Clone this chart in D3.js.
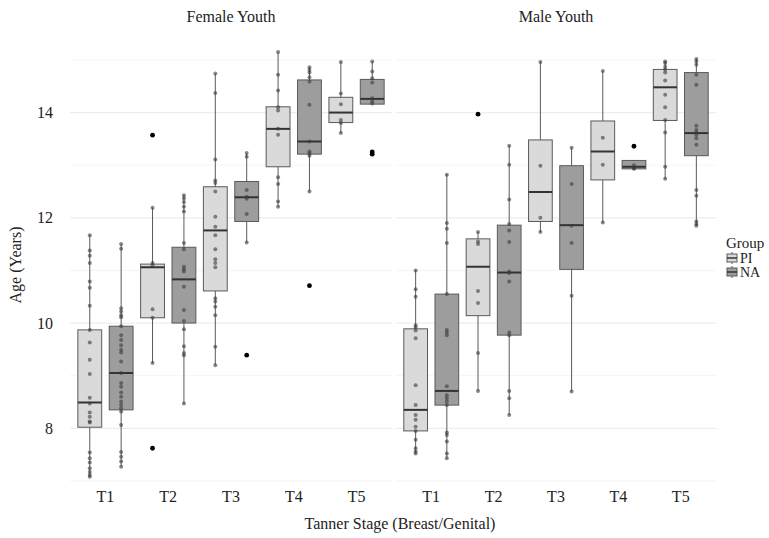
<!DOCTYPE html>
<html>
<head>
<meta charset="utf-8">
<script src="https://cdn.jsdelivr.net/npm/d3@7"></script>
<style>
  body { margin: 0; background: #fff; }
  text { font-family: "Liberation Serif", "DejaVu Serif", serif; fill: #222; }
</style>
</head>
<body>
<script>
const panels = ["Female Youth", "Male Youth"];
const stages = ["T1", "T2", "T3", "T4", "T5"];
const groups = ["PI", "NA"];
const yTicks = [8, 10, 12, 14];

// box stats per stage: [lower whisker, q1, median, q3, upper whisker]
const femalePIBox = [[7.08, 8.02, 8.49, 9.87, 11.67], [9.24, 10.10, 11.06, 11.12, 12.19], [9.20, 10.61, 11.76, 12.59, 14.74], [12.21, 12.97, 13.69, 14.11, 15.15], [13.61, 13.81, 14.00, 14.29, 14.96]];
const femaleNABox = [[7.27, 8.35, 9.05, 9.94, 11.50], [8.47, 10.00, 10.83, 11.44, 12.43], [11.53, 11.93, 12.39, 12.69, 13.23], [12.50, 13.21, 13.45, 14.62, 14.86], [14.16, 14.16, 14.26, 14.63, 14.97]];
const malePIBox = [[7.52, 7.95, 8.35, 9.89, 11.00], [8.71, 10.14, 11.07, 11.60, 11.73], [11.73, 11.93, 12.49, 13.48, 14.96], [11.91, 12.72, 13.26, 13.84, 14.79], [12.74, 13.85, 14.48, 14.82, 14.97]];
const maleNABox = [[7.43, 8.44, 8.71, 10.55, 12.82], [8.25, 9.77, 10.96, 11.86, 13.37], [8.70, 11.02, 11.86, 12.99, 13.33], [12.93, 12.93, 12.97, 13.09, 13.09], [11.85, 13.18, 13.61, 14.76, 15.02]];

// individual ages per stage
const femalePIPts = [
  [11.67, 11.38, 11.28, 11.14, 10.79, 10.67, 10.33, 9.87, 9.63, 9.30, 9.03, 8.58, 8.47, 8.30, 8.22, 8.13, 8.11, 7.54, 7.43, 7.35, 7.24, 7.17, 7.11, 7.08],
  [12.19, 11.14, 11.10, 10.26, 10.10, 9.24],
  [14.74, 14.37, 13.11, 12.71, 12.66, 12.50, 12.02, 11.83, 11.67, 11.40, 11.21, 11.14, 11.06, 10.47, 10.41, 10.31, 10.15, 9.55, 9.20],
  [15.15, 14.72, 14.42, 14.10, 14.04, 13.69, 13.58, 12.77, 12.64, 12.31, 12.21],
  [14.96, 14.36, 14.16, 13.86, 13.80, 13.61]];
const femaleNAPts = [
  [11.50, 11.41, 10.28, 10.22, 10.15, 10.11, 9.94, 9.77, 9.68, 9.58, 9.49, 9.44, 9.27, 9.05, 8.86, 8.79, 8.68, 8.60, 8.51, 8.44, 8.38, 8.32, 8.06, 7.55, 7.46, 7.37, 7.27],
  [12.43, 12.37, 12.30, 12.21, 12.12, 11.52, 11.40, 11.07, 11.02, 10.98, 10.69, 10.25, 10.04, 9.88, 9.56, 9.43, 9.39, 8.47],
  [13.23, 13.16, 12.53, 12.40, 12.36, 12.07, 11.53],
  [14.86, 14.81, 14.76, 14.67, 14.59, 14.15, 13.45, 13.26, 13.22, 13.18, 12.50],
  [14.97, 14.78, 14.65, 14.57, 14.27, 14.21, 14.17]];
const malePIPts = [
  [11.00, 10.64, 10.50, 9.96, 9.92, 9.86, 9.71, 8.82, 8.44, 8.25, 8.16, 8.03, 7.95, 7.78, 7.62, 7.56, 7.52],
  [11.73, 11.55, 11.50, 10.61, 10.38, 9.43, 8.71],
  [14.96, 12.99, 12.00, 11.73],
  [14.79, 13.52, 13.01, 11.91],
  [14.97, 14.94, 14.87, 14.82, 14.76, 14.61, 14.34, 14.10, 13.86, 13.62, 12.97, 12.74]];
const maleNAPts = [
  [12.82, 11.90, 11.79, 11.52, 10.55, 9.87, 9.82, 9.77, 8.80, 8.63, 8.57, 8.51, 8.44, 7.92, 7.87, 7.75, 7.52, 7.43],
  [13.37, 13.01, 12.35, 11.88, 11.76, 11.54, 10.98, 10.95, 10.79, 9.82, 9.77, 8.71, 8.57, 8.25],
  [13.33, 12.64, 11.85, 11.52, 10.52, 8.70],
  [13.00, 12.94, 12.93],
  [15.02, 14.97, 14.91, 14.72, 14.53, 13.75, 13.67, 13.62, 13.58, 13.51, 13.39, 12.53, 12.42, 11.93, 11.88, 11.85]];

// outliers per stage
const femalePIOut = [[], [13.57, 7.62], [], [], []];
const femaleNAOut = [[], [], [9.39], [10.71], [13.25, 13.21]];
const malePIOut = [[], [13.97], [], [], []];
const maleNAOut = [[], [], [], [13.36], []];

const series = [
  {panel: 0, group: "PI", box: femalePIBox, pts: femalePIPts, out: femalePIOut},
  {panel: 0, group: "NA", box: femaleNABox, pts: femaleNAPts, out: femaleNAOut},
  {panel: 1, group: "PI", box: malePIBox, pts: malePIPts, out: malePIOut},
  {panel: 1, group: "NA", box: maleNABox, pts: maleNAPts, out: maleNAOut}
];

const width = 769, height = 538;
const fillColor = d3.scaleOrdinal().domain(groups).range(["#dadada", "#9d9d9d"]);
const panelX = [[70, 392], [396, 716]];
const plotTop = 31, plotBottom = 483;

const y = d3.scaleLinear().domain([6.96, 15.55]).range([plotBottom, plotTop]);

const svg = d3.select("body").append("svg")
  .attr("width", width)
  .attr("height", height);

panels.forEach(function(name, p) {
  const x = d3.scalePoint().domain(stages).range(panelX[p]).padding(0.565);
  const step = x.step();
  const dodge = d3.scalePoint().domain(groups).range([-step * 0.25, step * 0.25]);
  const boxW = step * 0.38;
  const g = svg.append("g");

  // grid
  const minor = d3.range(7, 16, 2);
  g.selectAll("line.minor").data(minor).join("line")
    .attr("x1", panelX[p][0]).attr("x2", panelX[p][1])
    .attr("y1", d => y(d)).attr("y2", d => y(d))
    .attr("stroke", "#f5f5f5").attr("stroke-width", 1);
  g.selectAll("line.major").data(yTicks).join("line")
    .attr("x1", panelX[p][0]).attr("x2", panelX[p][1])
    .attr("y1", d => y(d)).attr("y2", d => y(d))
    .attr("stroke", "#ededed").attr("stroke-width", 1.2);

  // strip title
  svg.append("text")
    .attr("x", (panelX[p][0] + panelX[p][1]) / 2)
    .attr("y", 22)
    .attr("text-anchor", "middle")
    .attr("font-size", 16)
    .text(name);

  // x tick labels
  g.selectAll("text.xt").data(stages).join("text")
    .attr("x", d => x(d))
    .attr("y", 502)
    .attr("text-anchor", "middle")
    .attr("font-size", 16)
    .text(d => d);

  series.filter(s => s.panel === p).forEach(function(s) {
    stages.forEach(function(st, i) {
      const b = s.box[i];
      const cx = x(st) + dodge(s.group);
      const sg = g.append("g");
      sg.append("line")
        .attr("x1", cx).attr("x2", cx)
        .attr("y1", y(b[0])).attr("y2", y(b[4]))
        .attr("stroke", "#5a5a5a").attr("stroke-width", 1);
      sg.append("rect")
        .attr("x", cx - boxW / 2).attr("width", boxW)
        .attr("y", y(b[3])).attr("height", Math.max(1, y(b[1]) - y(b[3])))
        .attr("fill", fillColor(s.group))
        .attr("stroke", "#5a5a5a").attr("stroke-width", 1);
      sg.append("line")
        .attr("x1", cx - boxW / 2).attr("x2", cx + boxW / 2)
        .attr("y1", y(b[2])).attr("y2", y(b[2]))
        .attr("stroke", "#333").attr("stroke-width", 2);
      sg.selectAll("circle.pt").data(s.pts[i]).join("circle")
        .attr("cx", cx).attr("cy", d => y(d))
        .attr("r", 2)
        .attr("fill", "#3a3a3a").attr("fill-opacity", 0.6);
      sg.selectAll("circle.out").data(s.out[i]).join("circle")
        .attr("cx", cx).attr("cy", d => y(d))
        .attr("r", 2.4)
        .attr("fill", "#000");
    });
  });
});

// y tick labels
svg.selectAll("text.yt").data(yTicks).join("text")
  .attr("x", 53)
  .attr("y", d => y(d) + 5.5)
  .attr("text-anchor", "end")
  .attr("font-size", 16)
  .text(d => d);

// axis titles
svg.append("text")
  .attr("transform", "translate(21,265) rotate(-90)")
  .attr("text-anchor", "middle")
  .attr("font-size", 16)
  .text("Age (Years)");
svg.append("text")
  .attr("x", 400)
  .attr("y", 529)
  .attr("text-anchor", "middle")
  .attr("font-size", 16)
  .text("Tanner Stage (Breast/Genital)");

// legend
const leg = svg.append("g").attr("transform", "translate(726,0)");
leg.append("text").attr("x", 0).attr("y", 248).attr("font-size", 15).text("Group");
groups.forEach(function(gname, i) {
  const ky = 258 + i * 14;
  leg.append("line").attr("x1", 6).attr("x2", 6).attr("y1", ky - 6).attr("y2", ky + 6)
    .attr("stroke", "#5a5a5a");
  leg.append("rect").attr("x", 1).attr("y", ky - 4).attr("width", 10).attr("height", 8)
    .attr("fill", fillColor(gname)).attr("stroke", "#5a5a5a");
  leg.append("line").attr("x1", 1).attr("x2", 11).attr("y1", ky).attr("y2", ky)
    .attr("stroke", "#333").attr("stroke-width", 1.5);
  leg.append("text").attr("x", 14).attr("y", ky + 5).attr("font-size", 14).text(gname);
});
</script>
</body>
</html>
